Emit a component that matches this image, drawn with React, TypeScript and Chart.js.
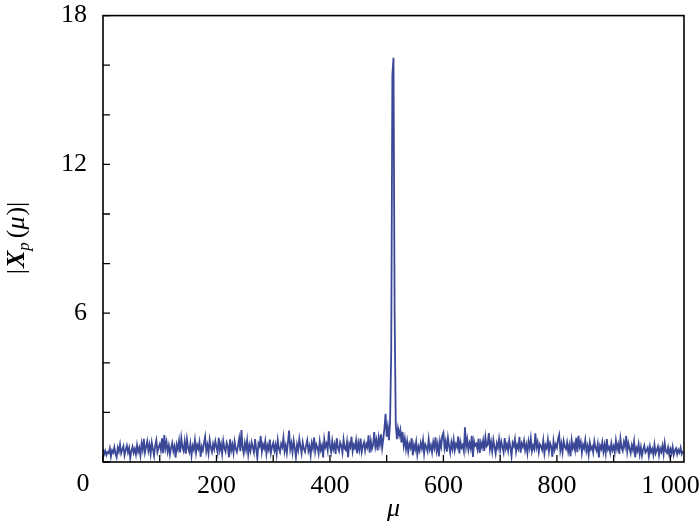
import React, { useEffect, useRef } from 'react';
import { Chart, registerables } from 'chart.js';

Chart.register(...registerables);

const SERIF = '"Liberation Serif", "Times New Roman", serif';
const LINE_COLOR = '#3a4897';

// spacing between samples of mu
const muStep = 2;

// |X_p(mu)|, mu = 0 .. 98
const mag000 = [
  0.52, 0.31, 0.45, 0.28, 0.40, 0.36, 0.55, 0.22, 0.47, 0.38,
  0.60, 0.33, 0.19, 0.58, 0.42, 0.71, 0.35, 0.50, 0.64, 0.27,
  0.48, 0.66, 0.39, 0.57, 0.15, 0.44, 0.62, 0.37, 0.53, 0.30,
  0.69, 0.41, 0.58, 0.26, 0.74, 0.49, 0.93, 0.38, 0.61, 0.84,
  0.45, 0.70, 0.33, 0.78, 0.52, 0.25, 0.66, 0.88, 0.40, 0.59,
];
// mu = 100 .. 198
const mag100 = [
  0.72, 0.48, 0.95, 0.36, 1.09, 0.55, 0.81, 0.42, 0.67, 0.30,
  0.58, 0.77, 0.44, 0.63, 0.18, 0.70, 0.51, 0.86, 0.39, 0.97,
  0.60, 0.45, 0.83, 0.34, 0.92, 0.57, 0.41, 0.74, 0.26, 0.65,
  0.50, 0.88, 0.37, 0.69, 0.54, 0.80, 0.21, 0.62, 0.47, 0.76,
  1.02, 0.43, 0.68, 0.35, 0.89, 0.58, 0.40, 0.73, 0.52, 0.84,
];
// mu = 200 .. 298
const mag200 = [
  0.61, 0.38, 0.97, 0.49, 0.72, 0.33, 0.85, 0.56, 0.42, 0.78,
  0.64, 0.19, 0.91, 0.47, 0.70, 0.36, 0.82, 0.53, 0.40, 0.66,
  0.95, 0.44, 1.29, 0.58, 0.35, 0.76, 0.50, 0.87, 0.31, 0.68,
  0.45, 0.79, 0.59, 0.38, 0.92, 0.52, 0.17, 0.74, 0.63, 1.05,
  0.41, 0.71, 0.55, 0.84, 0.33, 0.66, 0.49, 0.90, 0.37, 0.62,
];
// mu = 300 .. 398
const mag300 = [
  0.77, 0.46, 0.69, 0.32, 0.88, 0.54, 0.40, 0.73, 0.60, 0.98,
  0.43, 0.67, 0.36, 0.80, 1.27, 0.51, 0.75, 0.39, 0.86, 0.57,
  0.20, 0.70, 0.48, 0.93, 0.62, 0.35, 0.79, 0.53, 0.41, 0.68,
  0.88, 0.45, 0.64, 0.27, 0.76, 0.55, 0.99, 0.42, 0.71, 0.58,
  0.34, 0.83, 0.49, 0.66, 0.18, 0.91, 0.60, 0.74, 0.47, 1.24,
];
// mu = 400 .. 498
const mag400 = [
  0.63, 0.40, 0.85, 0.52, 0.71, 0.33, 0.96, 0.58, 0.44, 0.79,
  0.66, 0.37, 0.90, 0.55, 0.48, 0.82, 0.19, 0.74, 0.61, 1.02,
  0.43, 0.69, 0.56, 0.87, 0.35, 0.77, 0.50, 0.94, 0.41, 0.65,
  0.80, 0.46, 0.72, 0.59, 1.08, 0.38, 0.84, 0.53, 0.68, 1.21,
  0.62, 0.88, 0.47, 0.99, 0.70, 1.12, 0.57, 0.93, 1.35, 1.94,
];
// mu = 500 .. 598 (contains the main peak)
const mag500 = [
  1.02, 1.41, 0.88, 1.62, 4.50, 15.6, 16.3, 6.00, 1.52, 0.92,
  1.36, 1.08, 1.30, 0.79, 1.22, 0.66, 0.95, 0.52, 0.84, 0.41,
  0.73, 0.58, 0.96, 0.27, 0.69, 0.50, 0.81, 0.30, 0.62, 0.45,
  0.77, 0.55, 0.88, 0.34, 0.71, 0.60, 0.43, 0.92, 0.51, 0.67,
  0.39, 0.80, 0.57, 0.99, 0.46, 0.73, 0.22, 0.85, 0.61, 1.05,
];
// mu = 600 .. 698
const mag600 = [
  1.18, 0.56, 0.83, 0.42, 0.97, 0.64, 0.38, 0.79, 0.53, 0.90,
  0.47, 0.72, 0.60, 1.03, 0.35, 0.81, 0.58, 0.68, 0.44, 1.40,
  0.62, 0.91, 0.49, 0.76, 0.55, 1.06, 0.20, 0.85, 0.66, 0.73,
  0.51, 0.94, 0.37, 0.78, 0.59, 0.87, 0.45, 1.00, 0.63, 0.70,
  1.17, 0.52, 0.80, 0.43, 0.89, 0.61, 0.34, 0.75, 0.57, 0.93,
];
// mu = 700 .. 798
const mag700 = [
  0.48, 0.82, 0.60, 0.39, 0.96, 0.54, 0.71, 0.45, 0.88, 0.58,
  0.23, 0.77, 0.64, 0.92, 0.42, 0.69, 0.55, 1.01, 0.38, 0.74,
  0.61, 0.86, 0.47, 0.70, 0.36, 0.83, 0.57, 0.95, 0.44, 0.66,
  0.52, 1.16, 0.59, 0.80, 0.41, 0.72, 0.63, 0.49, 0.87, 0.35,
  0.68, 0.56, 0.90, 0.43, 0.76, 0.62, 0.21, 0.84, 0.50, 0.71,
];
// mu = 800 .. 898
const mag800 = [
  0.58, 0.93, 1.10, 0.46, 0.74, 0.39, 0.85, 0.61, 0.52, 0.79,
  0.42, 0.68, 0.23, 0.88, 0.56, 0.72, 0.47, 0.97, 0.40, 1.06,
  0.63, 0.81, 0.36, 0.70, 0.55, 0.89, 0.44, 0.65, 0.30, 0.78,
  0.51, 0.62, 0.38, 0.84, 0.57, 0.45, 0.73, 0.18, 0.66, 0.53,
  0.80, 0.41, 0.69, 0.35, 0.92, 0.50, 0.60, 0.37, 0.75, 0.48,
];
// mu = 900 .. 998
const mag900 = [
  0.64, 0.39, 0.86, 0.52, 0.71, 0.33, 0.94, 0.58, 0.45, 0.80,
  0.61, 1.05, 0.42, 0.76, 0.55, 0.35, 0.68, 0.49, 0.83, 0.19,
  0.57, 0.44, 0.72, 0.31, 0.60, 0.26, 0.51, 0.67, 0.38, 0.46,
  0.58, 0.24, 0.63, 0.40, 0.53, 0.29, 0.70, 0.35, 0.48, 0.62,
  0.27, 0.55, 0.41, 0.66, 0.32, 0.77, 0.44, 0.36, 0.59, 0.30,
];
// mu = 1000 .. 1022
const mag1000 = [0.52, 0.34, 0.61, 0.28, 0.46, 0.55, 0.31, 0.49, 0.38, 0.58, 0.33, 0.45];

const magnitude = [
  ...mag000, ...mag100, ...mag200, ...mag300, ...mag400, ...mag500,
  ...mag600, ...mag700, ...mag800, ...mag900, ...mag1000,
];
const muValues = magnitude.map((_, i) => i * muStep);

const xTickLabels: Record<number, string> = { 200: '200', 400: '400', 600: '600', 800: '800', 1000: '1 000' };
const yTickLabels: Record<number, string> = { 6: '6', 12: '12', 18: '18' };
const originLabel = '0';

const framePlugin = {
  id: 'frameAndTitles',
  afterDraw(chart: any) {
    const { ctx, chartArea: a, scales } = chart;
    const xs = scales.x;
    const ys = scales.y;
    ctx.save();
    // frame
    ctx.strokeStyle = '#000';
    ctx.lineWidth = 1.6;
    ctx.strokeRect(a.left, a.top, a.right - a.left, a.bottom - a.top);
    // inward ticks
    ctx.lineWidth = 1.3;
    ctx.beginPath();
    xs.ticks.forEach((t: any) => {
      const px = xs.getPixelForValue(t.value);
      ctx.moveTo(px, a.bottom);
      ctx.lineTo(px, a.bottom - 7);
    });
    ys.ticks.forEach((t: any) => {
      const py = ys.getPixelForValue(t.value);
      ctx.moveTo(a.left, py);
      ctx.lineTo(a.left + 7, py);
    });
    ctx.stroke();

    // shared origin label
    ctx.fillStyle = '#000';
    ctx.font = `26px ${SERIF}`;
    ctx.textAlign = 'center';
    ctx.textBaseline = 'top';
    ctx.fillText(originLabel, xs.getPixelForValue(0) - 20, xs.top + 9);

    // y axis title |X_p(mu)|
    const parts = [
      { t: '|', f: `26px ${SERIF}`, dy: 0, gap: 1 },
      { t: 'X', f: `italic bold 26px ${SERIF}`, dy: 0, gap: 0 },
      { t: 'p', f: `italic 17px ${SERIF}`, dy: 5, gap: 4 },
      { t: '(', f: `26px ${SERIF}`, dy: 0, gap: 0 },
      { t: 'μ', f: `italic 26px ${SERIF}`, dy: 0, gap: 1 },
      { t: ')', f: `26px ${SERIF}`, dy: 0, gap: 0 },
      { t: '|', f: `26px ${SERIF}`, dy: 0, gap: 0 },
    ];
    let total = 0;
    const widths = parts.map((p) => {
      ctx.font = p.f;
      const w = ctx.measureText(p.t).width;
      total += w + p.gap;
      return w;
    });
    ctx.translate(24, 238);
    ctx.rotate(-Math.PI / 2);
    ctx.textAlign = 'left';
    ctx.textBaseline = 'alphabetic';
    let x = -total / 2;
    parts.forEach((p, i) => {
      ctx.font = p.f;
      ctx.fillText(p.t, x, p.dy);
      x += widths[i] + p.gap;
    });
    ctx.restore();
  },
};

export default function App() {
  const canvasRef = useRef<HTMLCanvasElement | null>(null);

  useEffect(() => {
    document.body.style.margin = '0';
    const canvas = canvasRef.current;
    if (!canvas) return;
    const chart = new Chart(canvas, {
      type: 'line',
      data: {
        datasets: [
          {
            data: muValues.map((m, i) => ({ x: m, y: magnitude[i] })),
            borderColor: LINE_COLOR,
            borderWidth: 1.8,
            pointRadius: 0,
            tension: 0,
            fill: false,
          },
        ],
      },
      options: {
        responsive: false,
        animation: false,
        events: [],
        layout: { padding: { left: 0, right: 16, top: 0, bottom: 0 } },
        plugins: { legend: { display: false }, tooltip: { enabled: false }, title: { display: false } },
        scales: {
          x: {
            type: 'linear',
            min: 0,
            max: 1024,
            grid: { display: false, drawTicks: true, tickLength: 9 },
            border: { display: false },
            ticks: {
              stepSize: 100,
              autoSkip: false,
              maxRotation: 0,
              includeBounds: false,
              padding: 0,
              color: '#000',
              font: { family: SERIF, size: 26 },
              callback: (v: any) => xTickLabels[Number(v)] ?? '',
            },
            title: {
              display: true,
              text: 'μ',
              color: '#000',
              font: { family: SERIF, size: 26, style: 'italic' },
              padding: { top: 0, bottom: 2 },
            },
            afterFit: (s: any) => {
              s.height = 65;
            },
          },
          y: {
            type: 'linear',
            min: 0,
            max: 18,
            grid: { display: false, drawTicks: true, tickLength: 16 },
            border: { display: false },
            ticks: {
              stepSize: 2,
              autoSkip: false,
              padding: 0,
              color: '#000',
              font: { family: SERIF, size: 26 },
              callback: (v: any) => yTickLabels[Number(v)] ?? '',
            },
            afterFit: (s: any) => {
              s.width = 103;
            },
          },
        },
      },
      plugins: [framePlugin],
    });
    return () => chart.destroy();
  }, []);

  return (
    <div style={{ position: 'absolute', left: 0, top: 0, width: 700, height: 527, background: '#fff' }}>
      <canvas ref={canvasRef} width={700} height={527} />
    </div>
  );
}
